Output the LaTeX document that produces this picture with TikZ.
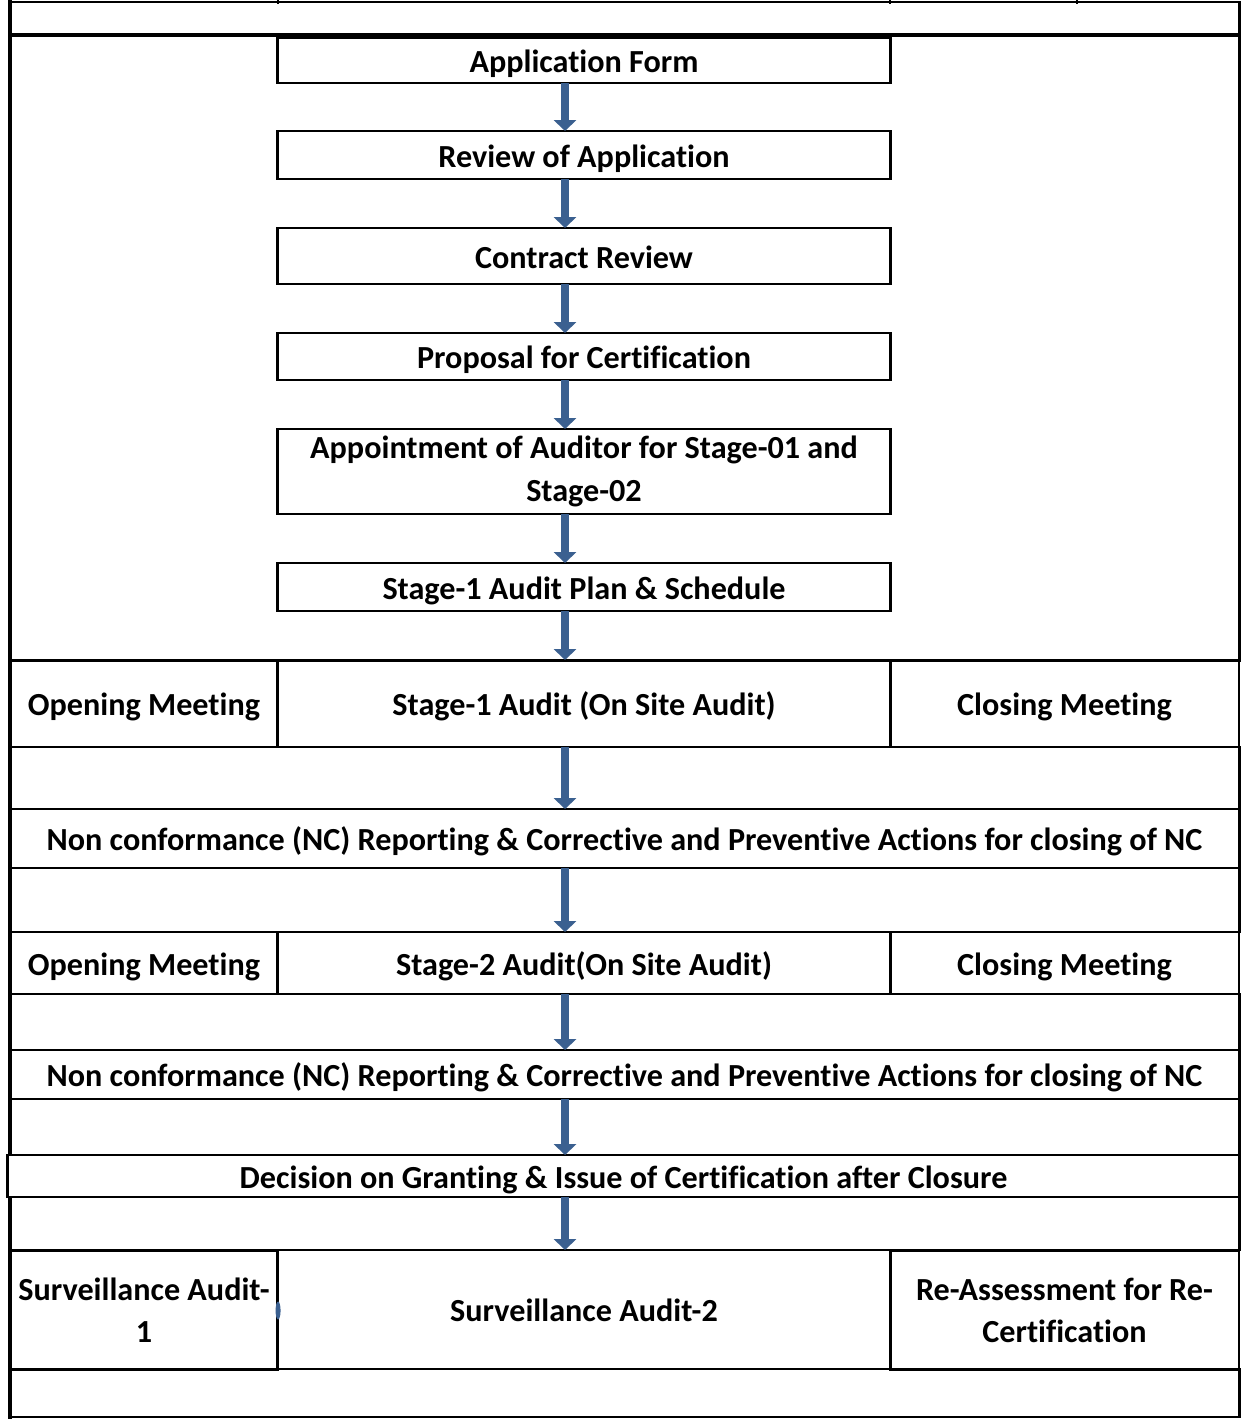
\documentclass[tikz,border=0pt]{standalone}
\usepackage{fontspec}
\setmainfont{Carlito}[Ligatures=NoCommon]
\usetikzlibrary{arrows.meta}
\definecolor{flowblue}{HTML}{3B6090}

\begin{document}
\begin{tikzpicture}[x=0.01cm, y=-0.01cm, font=\fontsize{9.15}{12}\selectfont\bfseries,
		cell/.style={draw, line width=0.77pt, inner sep=0pt, outer sep=0pt, align=center, text height=0.92em, text depth=0.22em},
		full/.style={cell, minimum width=12.29cm},
		side/.style={cell, minimum width=2.68cm},
		mid/.style={cell, minimum width=6.12cm},
		rside/.style={cell, minimum width=3.49cm},
		two/.style={text height={}, text depth={}},
		heavy/.style={line width=1.35pt},
		flow/.style={draw=flowblue, line width=2.3pt, -{Triangle[width=6.3pt,length=3.1pt]}, flowblue}]
		
		\useasboundingbox (0,0) rectangle (1241,1419);
		
		% top strip and upper part
		\node[full, two, minimum height=0.33cm] (toprow) at (624.5,18.5) {};
		\node[full, two, minimum height=6.25cm] (upper) at (624.5,347.5) {};
		\draw[heavy] (toprow.south west) -- (toprow.south east);
		\draw[line width=0.6pt] (278,0) -- (278,4);
		\draw[line width=0.6pt] (890,0) -- (890,4);
		\draw[line width=0.6pt] (1077,0) -- (1077,4);
		
		\node[mid, minimum height=0.45cm] (app) at (584,60.5) {Application Form};
		\node[mid, minimum height=0.48cm] (review) at (584,155) {Review of Application};
		\node[mid, minimum height=0.56cm] (contract) at (584,256) {Contract Review};
		\node[mid, minimum height=0.47cm] (proposal) at (584,356.5) {Proposal for Certification};
		\node[mid, two, minimum height=0.85cm] (appoint) at (584,471.5) {Appointment of Auditor for Stage-01 and\\Stage-02};
		\node[mid, minimum height=0.48cm] (plan) at (584,587) {Stage-1 Audit Plan \& Schedule};
		
		% stage 1
		\node[side, minimum height=0.87cm] (open1) at (144,703.5) {Opening Meeting};
		\node[mid, minimum height=0.87cm] (audit1) at (584,703.5) {Stage-1 Audit (On Site Audit)};
		\node[rside, minimum height=0.87cm] (close1) at (1064.5,703.5) {Closing Meeting};
		\node[full, minimum height=0.62cm] (gap1) at (624.5,778) {};
		\node[full, minimum height=0.59cm] (nc1) at (624.5,838.5) {Non conformance (NC) Reporting \& Corrective and Preventive Actions for closing of NC};
		\node[full, minimum height=0.64cm] (gap2) at (624.5,900) {};
		
		% stage 2
		\node[side, minimum height=0.62cm] (open2) at (144,963) {Opening Meeting};
		\node[mid, minimum height=0.62cm] (audit2) at (584,963) {Stage-2 Audit(On Site Audit)};
		\node[rside, minimum height=0.62cm] (close2) at (1064.5,963) {Closing Meeting};
		\node[full, minimum height=0.56cm] (gap3) at (624.5,1022) {};
		\node[full, minimum height=0.49cm] (nc2) at (624.5,1074.5) {Non conformance (NC) Reporting \& Corrective and Preventive Actions for closing of NC};
		\node[full, minimum height=0.56cm] (gap4) at (624.5,1127) {};
		\node[cell, minimum width=12.31cm, minimum height=0.42cm] (decision) at (623.5,1176) {Decision on Granting \& Issue of Certification after Closure};
		\node[full, minimum height=0.53cm] (gap5) at (624.5,1223.5) {};
		
		% after certification
		\node[side, two, minimum height=1.19cm] (surv1) at (144,1310.5) {Surveillance Audit-\\1};
		\node[mid, minimum height=1.19cm] (surv2) at (584,1309.5) {Surveillance Audit-2};
		\node[rside, two, minimum height=1.19cm] (reassess) at (1064.5,1310.5) {Re-Assessment for Re-\\Certification};
		\node[full, two, minimum height=0.48cm] (gap6) at (624.5,1393) {};
		
		% thick left edge
		\draw[heavy] (10,0) -- (10,1155);
		\draw[heavy] (10,1197) -- (10,1419);
		
		% arrows
		\coordinate (ax) at (565,0);
		\draw[flow] (app.south -| ax) -- (review.north -| ax);
		\draw[flow] (review.south -| ax) -- (contract.north -| ax);
		\draw[flow] (contract.south -| ax) -- (proposal.north -| ax);
		\draw[flow] (proposal.south -| ax) -- (appoint.north -| ax);
		\draw[flow] (appoint.south -| ax) -- (plan.north -| ax);
		\draw[flow] (plan.south -| ax) -- (audit1.north -| ax);
		\draw[flow] (audit1.south -| ax) -- (nc1.north -| ax);
		\draw[flow] (nc1.south -| ax) -- (audit2.north -| ax);
		\draw[flow] (audit2.south -| ax) -- (nc2.north -| ax);
		\draw[flow] (nc2.south -| ax) -- (decision.north -| ax);
		\draw[flow] (decision.south -| ax) -- (surv2.north -| ax);
		\fill[flowblue] (surv1.east) ellipse [x radius=0.025cm, y radius=0.09cm];
		
	\end{tikzpicture}
\end{document}
